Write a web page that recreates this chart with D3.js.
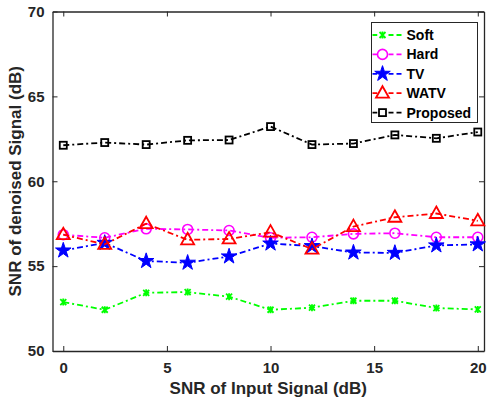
<!DOCTYPE html>
<html>
<head>
<meta charset="utf-8">
<script src="https://cdn.jsdelivr.net/npm/d3@7"></script>
<style>
  body { margin: 0; background: #fff; }
  text { font-family: "Liberation Sans", Arial, sans-serif; font-weight: bold; }
</style>
</head>
<body>
<script>
// input SNR values (dB)
var snrIn = [0, 2, 4, 6, 8, 10, 12, 14, 16, 18, 20];

var soft     = [52.88, 52.43, 53.43, 53.47, 53.2, 52.43, 52.55, 52.96, 52.96, 52.53, 52.45];
var hard     = [56.85, 56.67, 57.2, 57.16, 57.1, 56.67, 56.7, 56.9, 56.94, 56.7, 56.7];
var tv       = [55.92, 56.37, 55.3, 55.2, 55.57, 56.33, 56.18, 55.8, 55.78, 56.22, 56.28];
var watv     = [56.85, 56.28, 57.5, 56.55, 56.6, 57.0, 56.0, 57.33, 57.88, 58.1, 57.67];
var proposed = [62.12, 62.28, 62.16, 62.41, 62.43, 63.22, 62.16, 62.22, 62.73, 62.53, 62.9];

var xTicks = [0, 5, 10, 15, 20];
var yTicks = [50, 55, 60, 65, 70];

var series = [
  {name: "Soft", values: soft, color: "#00ff00", marker: "x"},
  {name: "Hard", values: hard, color: "#ff00ff", marker: "circle"},
  {name: "TV", values: tv, color: "#0000ff", marker: "star"},
  {name: "WATV", values: watv, color: "#ff0000", marker: "triangle"},
  {name: "Proposed", values: proposed, color: "#000000", marker: "square"}
];

var svgWidth = 489, svgHeight = 404;
var margin = {top: 11.5, right: 5, bottom: 53, left: 52.5};
var width = svgWidth - margin.left - margin.right;
var height = svgHeight - margin.top - margin.bottom;

var svg = d3.select("body").append("svg")
  .attr("width", svgWidth)
  .attr("height", svgHeight);

var chartGroup = svg.append("g").attr("transform", `translate(${margin.left}, ${margin.top})`);

var x = d3.scaleLinear().domain([-0.52, 20.3]).range([0, width]);
var y = d3.scaleLinear().domain([50, 70]).range([height, 0]);

// box and ticks
function drawAxis(axis, tr, noLabels) {
  var g = chartGroup.append("g").attr("transform", tr).call(axis);
  g.select(".domain").attr("stroke", "#262626").attr("stroke-width", 1.3);
  g.selectAll(".tick line").attr("stroke", "#262626").attr("stroke-width", 1);
  g.selectAll(".tick text").attr("fill", "#262626").style("font-size", "15px");
  if (noLabels) g.selectAll(".tick text").remove();
  return g;
}
drawAxis(d3.axisBottom(x).tickValues(xTicks).tickSizeInner(-5).tickSizeOuter(0).tickPadding(11), `translate(0,${height})`);
drawAxis(d3.axisTop(x).tickValues(xTicks).tickSizeInner(-5).tickSizeOuter(0), "translate(0,0)", true);
drawAxis(d3.axisLeft(y).tickValues(yTicks).tickSizeInner(-5).tickSizeOuter(0).tickPadding(8), "translate(0,0)");
drawAxis(d3.axisRight(y).tickValues(yTicks).tickSizeInner(-5).tickSizeOuter(0), `translate(${width},0)`, true);

// labels
svg.append("text")
  .attr("x", margin.left + width / 2)
  .attr("y", 394)
  .attr("text-anchor", "middle")
  .attr("fill", "#262626")
  .style("font-size", "17px")
  .text("SNR of Input Signal (dB)");

svg.append("text")
  .attr("transform", `translate(21, ${margin.top + height / 2}) rotate(-90)`)
  .attr("text-anchor", "middle")
  .attr("fill", "#262626")
  .style("font-size", "17px")
  .text("SNR of denoised Signal (dB)");

var dash = "6,3,2,3";

function drawMarker(g, type, color) {
  if (type === "x") {
    g.append("path").attr("d", "M-3,-3L3,3M-3,3L3,-3M0,-3.5L0,3.5")
      .attr("stroke", color).attr("stroke-width", 1.8).attr("fill", "none");
  } else if (type === "circle") {
    g.append("circle").attr("r", 5).attr("fill", "none").attr("stroke", color).attr("stroke-width", 1.6);
  } else if (type === "star") {
    g.append("path").attr("d", d3.symbol().type(d3.symbolStar).size(75)())
      .attr("fill", color).attr("stroke", color).attr("stroke-width", 1);
  } else if (type === "triangle") {
    g.append("path").attr("d", "M0,-7L6.5,4.5L-6.5,4.5Z")
      .attr("fill", "none").attr("stroke", color).attr("stroke-width", 1.8);
  } else if (type === "square") {
    g.append("rect").attr("x", -3.5).attr("y", -3.5).attr("width", 7).attr("height", 7)
      .attr("fill", "none").attr("stroke", color).attr("stroke-width", 1.8);
  }
}

var line = d3.line().x((d, i) => x(snrIn[i])).y(d => y(d));

series.forEach(function(s) {
  chartGroup.append("path")
    .datum(s.values)
    .attr("d", line)
    .attr("fill", "none")
    .attr("stroke", s.color)
    .attr("stroke-width", 1.8)
    .attr("stroke-dasharray", dash);

  s.values.forEach(function(v, i) {
    var g = chartGroup.append("g").attr("transform", `translate(${x(snrIn[i])},${y(v)})`);
    drawMarker(g, s.marker, s.color);
  });
});

// legend
var legend = svg.append("g").attr("transform", "translate(371.5, 22.5)");
legend.append("rect")
  .attr("width", 106).attr("height", 100)
  .attr("fill", "#fff").attr("stroke", "#262626").attr("stroke-width", 1);

series.forEach(function(s, i) {
  var yy = 12.5 + i * 19.4;
  legend.append("line")
    .attr("x1", 1).attr("x2", 31).attr("y1", yy).attr("y2", yy)
    .attr("stroke", s.color).attr("stroke-width", 1.8).attr("stroke-dasharray", "5,3");
  var g = legend.append("g").attr("transform", `translate(11,${yy})`);
  g.append("rect").attr("x", -5).attr("y", -6).attr("width", 10).attr("height", 12).attr("fill", "#fff");
  drawMarker(g, s.marker, s.color);
  legend.append("text")
    .attr("x", 35).attr("y", yy + 5)
    .attr("fill", "#000")
    .style("font-size", "14px")
    .text(s.name);
});
</script>
</body>
</html>
